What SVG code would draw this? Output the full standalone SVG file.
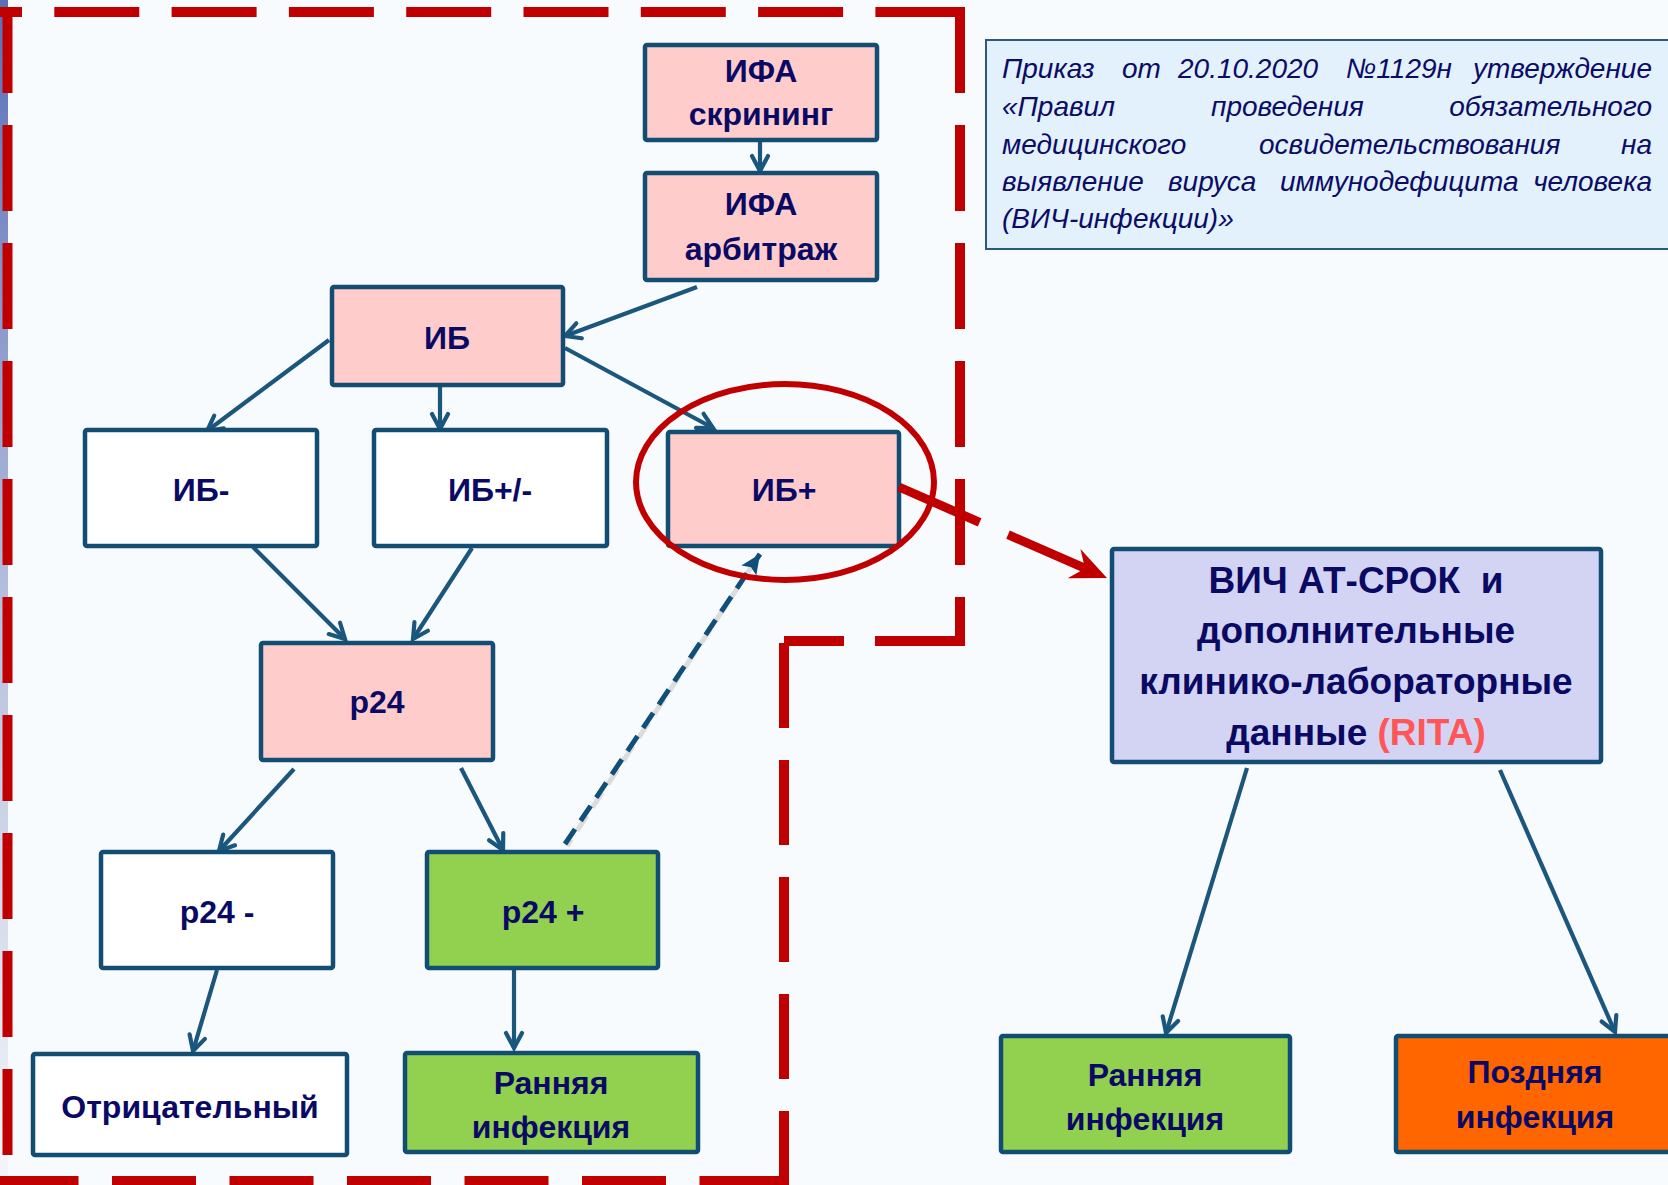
<svg xmlns="http://www.w3.org/2000/svg" width="1668" height="1185" viewBox="0 0 1668 1185">
<defs>
<linearGradient id="strip" x1="0" y1="0" x2="0" y2="1">
<stop offset="0" stop-color="#5a6fb6"/>
<stop offset="0.5" stop-color="#b4bedc"/>
<stop offset="1" stop-color="#f4f6fb"/>
</linearGradient>
<marker id="ah" viewBox="0 0 24 24" refX="20" refY="12" markerWidth="24" markerHeight="24" markerUnits="userSpaceOnUse" orient="auto">
<path d="M5,4 L20,12 L5,20" fill="none" stroke="#1b567d" stroke-width="4.2" stroke-linecap="round"/>
</marker>
<marker id="ahd" viewBox="0 0 24 24" refX="22" refY="12" markerWidth="24" markerHeight="24" markerUnits="userSpaceOnUse" orient="auto">
<path d="M2,3 L22,12 L2,21 L6,12 Z" fill="#0f4f7a"/>
</marker>
<marker id="ahr" viewBox="0 0 40 40" refX="38" refY="20" markerWidth="40" markerHeight="40" markerUnits="userSpaceOnUse" orient="auto">
<path d="M2,4 L38,20 L2,36 L14,20 Z" fill="#c00000"/>
</marker>
</defs>
<style>
.box{stroke:#124d74;stroke-width:4.5}
.pink{fill:#ffcccc}
.white{fill:#ffffff}
.green{fill:#92d050}
.orange{fill:#ff6600}
.lav{fill:#d3d3f3}
.t{font-family:"Liberation Sans",Arial,sans-serif;font-weight:bold;font-size:32px;fill:#0a0a64;text-anchor:middle}
.tb{font-family:"Liberation Sans",Arial,sans-serif;font-weight:bold;font-size:37px;fill:#0a0a64;text-anchor:middle}
.it{font-family:"Liberation Sans",Arial,sans-serif;font-style:italic;font-size:28px;fill:#0c0c66}
.conn{stroke:#1b567d;stroke-width:4.2;fill:none;marker-end:url(#ah)}
.red{stroke:#c00000;stroke-width:10;fill:none}
</style>
<rect x="0" y="0" width="1668" height="1185" fill="#f8fbfe"/>
<rect x="0" y="0" width="8" height="1185" fill="url(#strip)"/>

<g id="boundary">
<path class="red" d="M-63,12 H965" stroke-dasharray="85 32.3"/>
<path class="red" d="M7.5,7 V1185" stroke-dasharray="86 32"/>
<path class="red" d="M960,7 V641" stroke-dasharray="86 32"/>
<path class="red" d="M965,641 H784" stroke-dasharray="90 31"/>
<path class="red" d="M784,643 V1185" stroke-dasharray="85 32"/>
<path class="red" d="M-5.5,1181 H789" stroke-dasharray="84 33.5"/>
</g>

<g id="note">
<rect x="986" y="40" width="700" height="209" fill="#e2f1fc" stroke="#2c5a7a" stroke-width="2"/>
<text class="it" x="1002" y="78">Приказ</text>
<text class="it" x="1122" y="78">от</text>
<text class="it" x="1178" y="78">20.10.2020</text>
<text class="it" x="1346" y="78">№1129н</text>
<text class="it" x="1652" y="78" text-anchor="end">утверждение</text>
<text class="it" x="1002" y="116">«Правил</text>
<text class="it" x="1211" y="116">проведения</text>
<text class="it" x="1652" y="116" text-anchor="end">обязательного</text>
<text class="it" x="1002" y="154">медицинского</text>
<text class="it" x="1259" y="154">освидетельствования</text>
<text class="it" x="1652" y="154" text-anchor="end">на</text>
<text class="it" x="1002" y="191">выявление</text>
<text class="it" x="1168" y="191">вируса</text>
<text class="it" x="1280" y="191">иммунодефицита</text>
<text class="it" x="1652" y="191" text-anchor="end">человека</text>
<text class="it" x="1002" y="228">(ВИЧ-инфекции)»</text>
</g>

<g id="connectors">
<line class="conn" x1="760" y1="140" x2="760" y2="171"/>
<line class="conn" x1="697" y1="287" x2="565" y2="336"/>
<line class="conn" x1="329" y1="340" x2="207" y2="431"/>
<line class="conn" x1="440" y1="385" x2="440" y2="429"/>
<line class="conn" x1="565" y1="348" x2="713" y2="428"/>
<line class="conn" x1="253" y1="547" x2="345" y2="639"/>
<line class="conn" x1="472" y1="548" x2="413" y2="639"/>
<line class="conn" x1="294" y1="769" x2="219" y2="851"/>
<line class="conn" x1="461" y1="768" x2="503" y2="850"/>
<line class="conn" x1="217" y1="970" x2="193" y2="1051"/>
<line class="conn" x1="514" y1="970" x2="514" y2="1048"/>
<line class="conn" x1="1247" y1="768" x2="1166" y2="1033"/>
<line class="conn" x1="1500" y1="770" x2="1615" y2="1032"/>
<line x1="567" y1="846" x2="752" y2="566" stroke="#dcdcdc" stroke-width="5" stroke-dasharray="18 10" stroke-dashoffset="-18"/>
<line x1="565" y1="844" x2="760" y2="554" stroke="#0f4f7a" stroke-width="5" stroke-dasharray="18 10" marker-end="url(#ahd)"/>
</g>

<g id="n-ifa-screen">
<rect class="box pink" x="645" y="45" width="232" height="95" rx="2"/>
<text class="t" x="761" y="82">ИФА</text>
<text class="t" x="761" y="125">скрининг</text>
</g>
<g id="n-ifa-arb">
<rect class="box pink" x="645" y="173" width="232" height="107" rx="2"/>
<text class="t" x="761" y="215">ИФА</text>
<text class="t" x="761" y="260">арбитраж</text>
</g>
<g id="n-ib">
<rect class="box pink" x="332" y="287" width="231" height="98" rx="2"/>
<text class="t" x="447" y="349">ИБ</text>
</g>
<g id="n-ib-neg">
<rect class="box white" x="85" y="430" width="232" height="116" rx="2"/>
<text class="t" x="201" y="501">ИБ-</text>
</g>
<g id="n-ib-pm">
<rect class="box white" x="374" y="430" width="233" height="116" rx="2"/>
<text class="t" x="490" y="501">ИБ+/-</text>
</g>
<g id="n-ib-pos">
<rect class="box pink" x="668" y="432" width="231" height="114" rx="2"/>
<text class="t" x="784" y="501">ИБ+</text>
</g>
<g id="n-p24">
<rect class="box pink" x="261" y="643" width="232" height="117" rx="2"/>
<text class="t" x="377" y="713">p24</text>
</g>
<g id="n-p24-neg">
<rect class="box white" x="101" y="852" width="232" height="116" rx="2"/>
<text class="t" x="217" y="923">p24 -</text>
</g>
<g id="n-p24-pos">
<rect class="box green" x="427" y="852" width="231" height="116" rx="2"/>
<text class="t" x="543" y="923">p24 +</text>
</g>
<g id="n-negative">
<rect class="box white" x="33" y="1054" width="314" height="101" rx="2"/>
<text class="t" x="190" y="1118">Отрицательный</text>
</g>
<g id="n-early-left">
<rect class="box green" x="405" y="1053" width="293" height="99" rx="2"/>
<text class="t" x="551" y="1094">Ранняя</text>
<text class="t" x="551" y="1138">инфекция</text>
</g>
<g id="n-hiv">
<rect class="box lav" x="1112" y="549" width="489" height="213" rx="2"/>
<text class="tb" x="1356" y="593">ВИЧ АТ-СРОК&#160; и</text>
<text class="tb" x="1356" y="643">дополнительные</text>
<text class="tb" x="1356" y="694">клинико-лабораторные</text>
<text class="tb" x="1356" y="745">данные <tspan fill="#ff5757">(RITA)</tspan></text>
</g>
<g id="n-early-right">
<rect class="box green" x="1001" y="1036" width="289" height="116" rx="2"/>
<text class="t" x="1145" y="1086">Ранняя</text>
<text class="t" x="1145" y="1130">инфекция</text>
</g>
<g id="n-late">
<rect class="box orange" x="1396" y="1036" width="290" height="116" rx="2"/>
<text class="t" x="1535" y="1083">Поздняя</text>
<text class="t" x="1535" y="1128">инфекция</text>
</g>

<g id="highlight">
<ellipse cx="785" cy="482" rx="149" ry="98" fill="none" stroke="#c00000" stroke-width="6"/>
<line x1="899" y1="487" x2="1107" y2="578" stroke="#c00000" stroke-width="9" stroke-dasharray="88 31" marker-end="url(#ahr)"/>
</g>
</svg>
